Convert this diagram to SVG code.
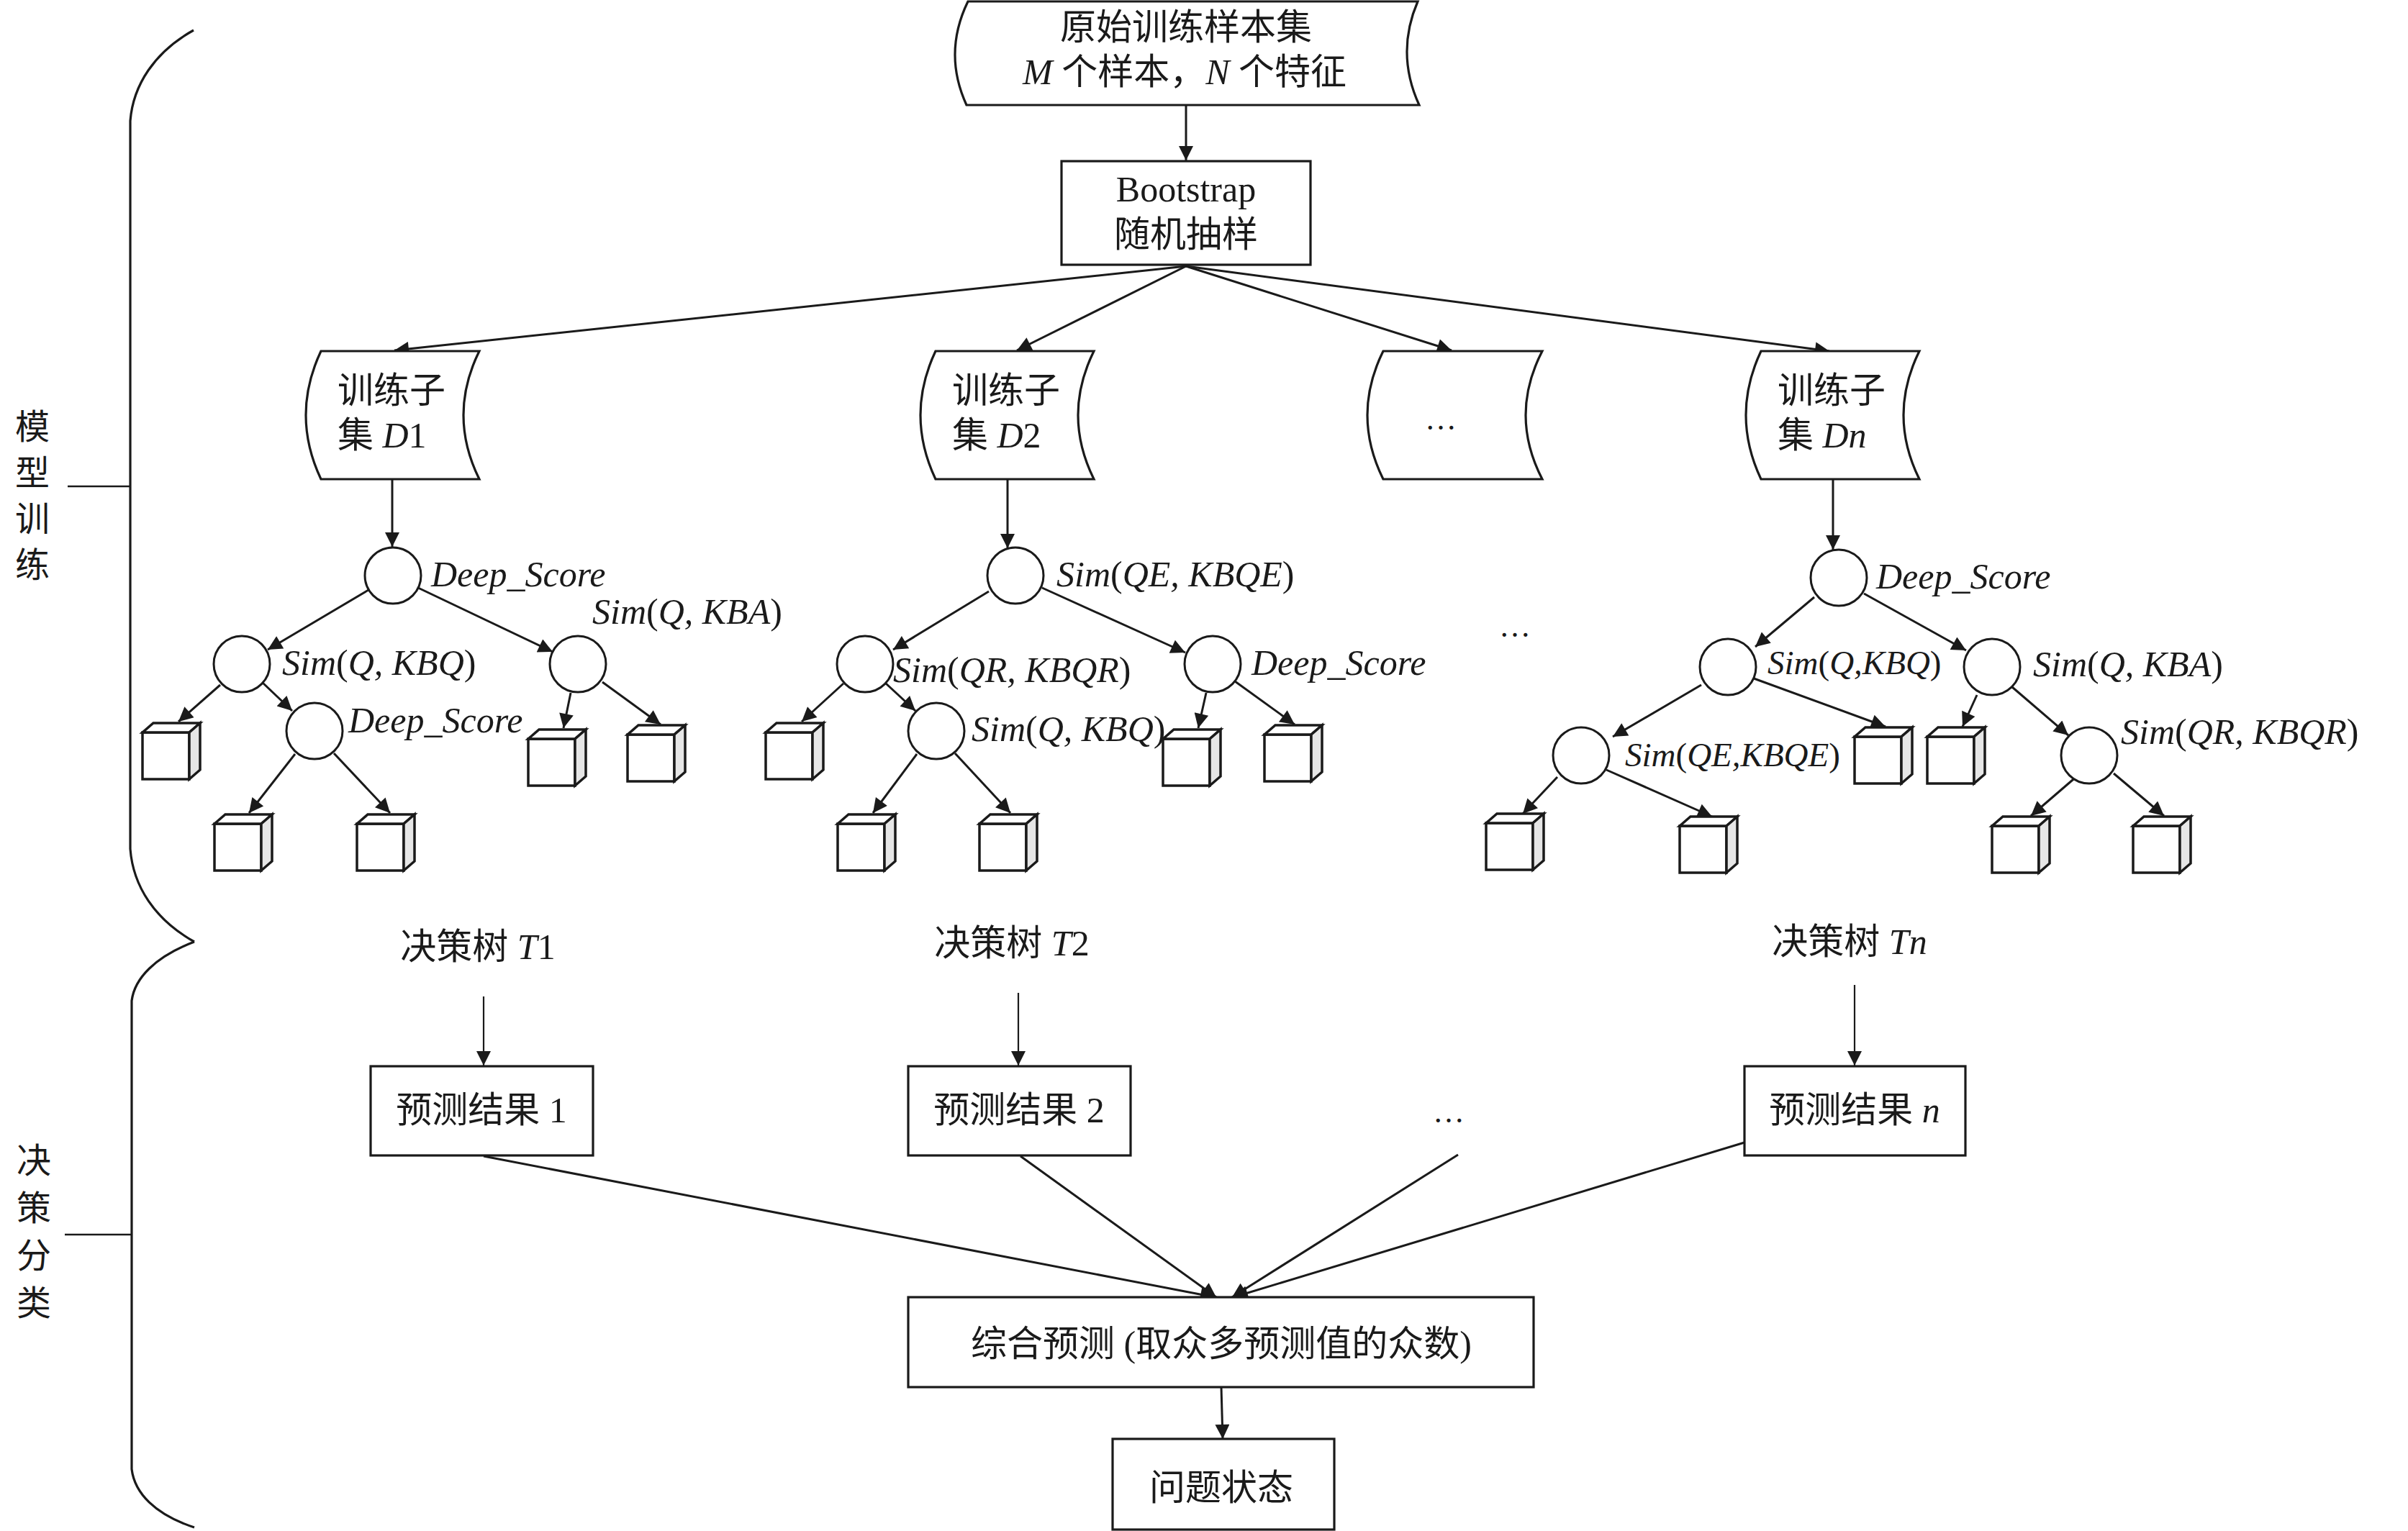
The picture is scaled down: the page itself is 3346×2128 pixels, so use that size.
<svg xmlns="http://www.w3.org/2000/svg" xmlns:xlink="http://www.w3.org/1999/xlink" width="3346" height="2128" viewBox="0 0 3346 2128">
<style>
.t{font-family:"Liberation Serif","Noto Sans CJK SC",serif;font-size:50px;fill:#1a1a1a}
.i{font-style:italic}
.n{font-style:normal}
.s48{font-size:47px}
.shape{fill:#fff;stroke:#1a1a1a;stroke-width:3.2}
.cir{fill:#fff;stroke:#1a1a1a;stroke-width:3}
.c{stroke:#1a1a1a;stroke-width:3;fill:none;marker-end:url(#ah)}
.c2{stroke:#1a1a1a;stroke-width:2.2;fill:none;marker-end:url(#ah)}
.ln{stroke:#1a1a1a;stroke-width:3;fill:none}
.br{stroke:#1a1a1a;stroke-width:3.2;fill:none}
.cf{fill:#fff;stroke:#1a1a1a;stroke-width:3.5;stroke-linejoin:miter}
.cs{fill:#e6e6e6;stroke:#1a1a1a;stroke-width:3.5;stroke-linejoin:miter}
</style>
<defs>
<marker id="ah" viewBox="0 0 10 10" refX="10" refY="5" markerWidth="25" markerHeight="20" markerUnits="userSpaceOnUse" orient="auto">
<path d="M0,0 L10,5 L0,10 z" fill="#1a1a1a"/>
</marker>
<g id="cube">
<rect class="cf" x="0" y="0" width="65" height="65"/>
<polygon class="cf" points="0,0 15,-13 80,-13 65,0"/>
<polygon class="cs" points="65,0 80,-13 80,52 65,65"/>
</g>
</defs>

<!-- braces and side labels -->
<g id="brace-train">
<path class="br" d="M269,42 C215,72 185,118 181,168 L181,1180 C185,1232 215,1278 270,1309"/>
<line class="ln" x1="94" y1="676" x2="181" y2="676" style="stroke-width:2.5"/>
<text class="t" x="45" y="610" text-anchor="middle" style="font-size:48px">模</text>
<text class="t" x="45" y="674" text-anchor="middle" style="font-size:48px">型</text>
<text class="t" x="45" y="738" text-anchor="middle" style="font-size:48px">训</text>
<text class="t" x="45" y="802" text-anchor="middle" style="font-size:48px">练</text>
</g>
<g id="brace-decide">
<path class="br" d="M270,1309 C215,1330 187,1360 183,1391 L183,2042 C187,2075 215,2105 270,2123"/>
<line class="ln" x1="90" y1="1716" x2="183" y2="1716" style="stroke-width:2.5"/>
<text class="t" x="47" y="1630" text-anchor="middle" style="font-size:48px">决</text>
<text class="t" x="47" y="1696" text-anchor="middle" style="font-size:48px">策</text>
<text class="t" x="47" y="1762" text-anchor="middle" style="font-size:48px">分</text>
<text class="t" x="47" y="1828" text-anchor="middle" style="font-size:48px">类</text>
</g>

<!-- connectors -->
<g id="connectors">
<line class="c" x1="1648" y1="146" x2="1648" y2="223"/>
<line class="c" x1="1648" y1="370" x2="548" y2="487"/>
<line class="c" x1="1648" y1="370" x2="1413" y2="487"/>
<line class="c" x1="1648" y1="370" x2="2017" y2="487"/>
<line class="c" x1="1648" y1="370" x2="2542" y2="488"/>
<line class="c" x1="545" y1="666" x2="545" y2="760"/>
<line class="c" x1="1400" y1="666" x2="1400" y2="762"/>
<line class="c" x1="2547" y1="665" x2="2547" y2="764"/>
<!-- tree 1 -->
<line class="c" x1="512" y1="820" x2="372" y2="903"/>
<line class="c" x1="581" y1="817" x2="768" y2="906"/>
<line class="c" x1="306" y1="952" x2="248" y2="1003"/>
<line class="c" x1="365" y1="949" x2="406" y2="988"/>
<line class="c" x1="410" y1="1048" x2="346" y2="1130"/>
<line class="c" x1="464" y1="1047" x2="542" y2="1130"/>
<line class="c" x1="793" y1="963" x2="783" y2="1012"/>
<line class="c" x1="837" y1="948" x2="918" y2="1007"/>
<!-- tree 2 -->
<line class="c" x1="1374" y1="822" x2="1241" y2="903"/>
<line class="c" x1="1448" y1="817" x2="1647" y2="907"/>
<line class="c" x1="1172" y1="950" x2="1114" y2="1003"/>
<line class="c" x1="1231" y1="950" x2="1272" y2="988"/>
<line class="c" x1="1274" y1="1048" x2="1213" y2="1130"/>
<line class="c" x1="1327" y1="1047" x2="1404" y2="1130"/>
<line class="c" x1="1676" y1="963" x2="1665" y2="1012"/>
<line class="c" x1="1716" y1="947" x2="1799" y2="1007"/>
<!-- tree n -->
<line class="c" x1="2521" y1="830" x2="2439" y2="899"/>
<line class="c" x1="2590" y1="825" x2="2732" y2="904"/>
<line class="c" x1="2364" y1="952" x2="2241" y2="1024"/>
<line class="c" x1="2437" y1="943" x2="2620" y2="1010"/>
<line class="c" x1="2747" y1="966" x2="2727" y2="1010"/>
<line class="c" x1="2796" y1="955" x2="2874" y2="1022"/>
<line class="c" x1="2164" y1="1080" x2="2116" y2="1131"/>
<line class="c" x1="2232" y1="1070" x2="2379" y2="1135"/>
<line class="c" x1="2887" y1="1078" x2="2822" y2="1134"/>
<line class="c" x1="2937" y1="1075" x2="3007" y2="1134"/>
<!-- decision -->
<line class="c2" x1="672" y1="1385" x2="672" y2="1481"/>
<line class="c2" x1="1415" y1="1380" x2="1415" y2="1481"/>
<line class="c2" x1="2577" y1="1369" x2="2577" y2="1481"/>
<line class="c" x1="672" y1="1607" x2="1688" y2="1803"/>
<line class="c" x1="1418" y1="1607" x2="1690" y2="1803"/>
<line class="c" x1="2026" y1="1605" x2="1712" y2="1803"/>
<line class="c" x1="2424" y1="1588" x2="1714" y2="1803"/>
<line class="c" x1="1697" y1="1928" x2="1699" y2="2000"/>
</g>

<!-- top nodes -->
<g id="raw-data">
<path class="shape" d="M1345,2 L1970,2 Q1939,74 1972,146 L1343,146 Q1310,74 1345,2 Z"/>
<text class="t" x="1648" y="55" text-anchor="middle">原始训练样本集</text>
<text class="t" x="1646" y="117" text-anchor="middle"><tspan class="i">M</tspan> 个样本，<tspan class="i">N</tspan> 个特征</text>
</g>
<g id="bootstrap">
<rect class="shape" x="1475" y="224" width="346" height="144"/>
<text class="t" x="1648" y="280" text-anchor="middle">Bootstrap</text>
<text class="t" x="1648" y="343" text-anchor="middle">随机抽样</text>
</g>

<!-- subsets -->
<g id="subset-d1">
<path class="shape" d="M446,488 L666,488 Q622,577 666,666 L446,666 Q404,577 446,488 Z"/>
<text class="t" x="469" y="560">训练子</text>
<text class="t" x="469" y="622">集 <tspan class="i">D</tspan>1</text>
</g>
<g id="subset-d2">
<path class="shape" d="M1300,488 L1520,488 Q1476,577 1520,666 L1300,666 Q1258,577 1300,488 Z"/>
<text class="t" x="1323" y="560">训练子</text>
<text class="t" x="1323" y="622">集 <tspan class="i">D</tspan>2</text>
</g>
<g id="subset-etc">
<path class="shape" d="M1922,488 L2143,488 Q2097,577 2143,666 L1922,666 Q1878,577 1922,488 Z"/>
<text class="t" x="2002" y="597" text-anchor="middle" style="font-size:44px">…</text>
</g>
<g id="subset-dn">
<path class="shape" d="M2447,488 L2667,488 Q2623,577 2667,666 L2447,666 Q2405,577 2447,488 Z"/>
<text class="t" x="2470" y="560">训练子</text>
<text class="t" x="2470" y="622">集 <tspan class="i">Dn</tspan></text>
</g>

<!-- tree 1 -->
<g id="t1-root"><circle class="cir" cx="546" cy="800" r="39"/><text class="t i" x="599" y="815">Deep_Score</text></g>
<g id="t1-l"><circle class="cir" cx="336" cy="923" r="39"/><text class="t i" x="392" y="938">Sim<tspan class="n">(</tspan>Q, KBQ<tspan class="n">)</tspan></text></g>
<g id="t1-r"><circle class="cir" cx="803" cy="923" r="39"/><text class="t i" x="823" y="867">Sim<tspan class="n">(</tspan>Q, KBA<tspan class="n">)</tspan></text></g>
<g id="t1-ll"><circle class="cir" cx="437" cy="1016" r="39"/><text class="t i" x="484" y="1018">Deep_Score</text></g>
<g id="t1-leaf1"><use xlink:href="#cube" x="198" y="1018"/></g>
<g id="t1-leaf2"><use xlink:href="#cube" x="298" y="1145"/></g>
<g id="t1-leaf3"><use xlink:href="#cube" x="496" y="1145"/></g>
<g id="t1-leaf4"><use xlink:href="#cube" x="734" y="1027"/></g>
<g id="t1-leaf5"><use xlink:href="#cube" x="872" y="1021"/></g>

<!-- tree 2 -->
<g id="t2-root"><circle class="cir" cx="1411" cy="800" r="39"/><text class="t i" x="1468" y="815">Sim<tspan class="n">(</tspan>QE, KBQE<tspan class="n">)</tspan></text></g>
<g id="t2-l"><circle class="cir" cx="1202" cy="923" r="39"/><text class="t i" x="1241" y="948">Sim<tspan class="n">(</tspan>QR, KBQR<tspan class="n">)</tspan></text></g>
<g id="t2-r"><circle class="cir" cx="1685" cy="923" r="39"/><text class="t i" x="1739" y="938">Deep_Score</text></g>
<g id="t2-ll"><circle class="cir" cx="1301" cy="1016" r="39"/><text class="t i" x="1350" y="1030">Sim<tspan class="n">(</tspan>Q, KBQ<tspan class="n">)</tspan></text></g>
<g id="t2-leaf1"><use xlink:href="#cube" x="1064" y="1018"/></g>
<g id="t2-leaf2"><use xlink:href="#cube" x="1164" y="1145"/></g>
<g id="t2-leaf3"><use xlink:href="#cube" x="1361" y="1145"/></g>
<g id="t2-leaf4"><use xlink:href="#cube" x="1616" y="1027"/></g>
<g id="t2-leaf5"><use xlink:href="#cube" x="1757" y="1021"/></g>

<!-- tree n -->
<text class="t" x="2105" y="885" text-anchor="middle" style="font-size:44px">…</text>
<g id="tn-root"><circle class="cir" cx="2555" cy="803" r="39"/><text class="t i" x="2607" y="818">Deep_Score</text></g>
<g id="tn-l"><circle class="cir" cx="2401" cy="927" r="39"/><text class="t i s48" x="2456" y="937">Sim<tspan class="n">(</tspan>Q,KBQ<tspan class="n">)</tspan></text></g>
<g id="tn-r"><circle class="cir" cx="2768" cy="927" r="39"/><text class="t i" x="2825" y="940">Sim<tspan class="n">(</tspan>Q, KBA<tspan class="n">)</tspan></text></g>
<g id="tn-ll"><circle class="cir" cx="2197" cy="1050" r="39"/><text class="t i s48" x="2258" y="1065">Sim<tspan class="n">(</tspan>QE,KBQE<tspan class="n">)</tspan></text></g>
<g id="tn-rr"><circle class="cir" cx="2903" cy="1050" r="39"/><text class="t i" x="2947" y="1034">Sim<tspan class="n">(</tspan>QR, KBQR<tspan class="n">)</tspan></text></g>
<g id="tn-leaf1"><use xlink:href="#cube" x="2577" y="1024"/></g>
<g id="tn-leaf2"><use xlink:href="#cube" x="2678" y="1024"/></g>
<g id="tn-leaf3"><use xlink:href="#cube" x="2065" y="1144"/></g>
<g id="tn-leaf4"><use xlink:href="#cube" x="2334" y="1148"/></g>
<g id="tn-leaf5"><use xlink:href="#cube" x="2768" y="1148"/></g>
<g id="tn-leaf6"><use xlink:href="#cube" x="2964" y="1148"/></g>

<!-- decision section -->
<g id="tree-t1-label"><text class="t" x="664" y="1333" text-anchor="middle">决策树 <tspan class="i">T</tspan>1</text></g>
<g id="tree-t2-label"><text class="t" x="1406" y="1328" text-anchor="middle">决策树 <tspan class="i">T</tspan>2</text></g>
<g id="tree-tn-label"><text class="t" x="2570" y="1326" text-anchor="middle">决策树 <tspan class="i">Tn</tspan></text></g>
<g id="pred-1"><rect class="shape" x="515" y="1482" width="309" height="124"/><text class="t" x="669" y="1560" text-anchor="middle">预测结果 1</text></g>
<g id="pred-2"><rect class="shape" x="1262" y="1482" width="309" height="124"/><text class="t" x="1416" y="1560" text-anchor="middle">预测结果 2</text></g>
<g id="pred-etc"><text class="t" x="2013" y="1560" text-anchor="middle" style="font-size:44px">…</text></g>
<g id="pred-n"><rect class="shape" x="2424" y="1482" width="307" height="124"/><text class="t" x="2577" y="1560" text-anchor="middle">预测结果 <tspan class="i">n</tspan></text></g>
<g id="ensemble"><rect class="shape" x="1262" y="1803" width="869" height="125"/><text class="t" x="1697" y="1885" text-anchor="middle">综合预测 (取众多预测值的众数)</text></g>
<g id="state"><rect class="shape" x="1546" y="2000" width="308" height="126"/><text class="t" x="1697" y="2085" text-anchor="middle">问题状态</text></g>
</svg>
